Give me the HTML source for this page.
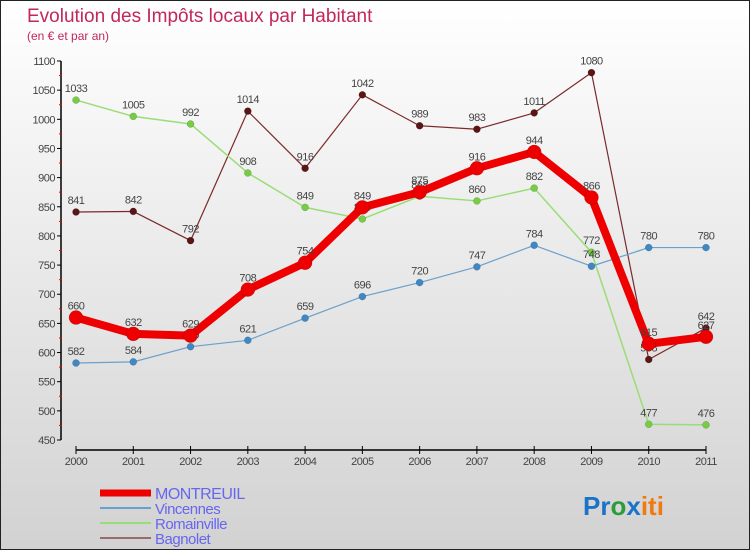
<!DOCTYPE html>
<html><head><meta charset="utf-8">
<style>
html,body{margin:0;padding:0}
body{width:750px;height:550px;overflow:hidden;font-family:"Liberation Sans",sans-serif}
#wrap{position:absolute;left:0;top:0;width:748px;height:548px;border:1px solid #222;background:linear-gradient(#ffffff,#d2d2d2)}
</style></head>
<body>
<div id="wrap">
<svg id="chart" width="750" height="550" style="position:absolute;left:-1px;top:-1px">
<text x="27" y="22" font-size="19" fill="#c2275c">Evolution des Impôts locaux par Habitant</text>
<text x="27" y="40" font-size="12" fill="#c2275c">(en € et par an)</text>
<g id="axes"></g>
<g id="series"></g>
<g id="legend"></g>
<text x="583" y="515" font-size="26" font-weight="bold"><tspan fill="#1a73c8">Pr</tspan><tspan fill="#2a9d3a">o</tspan><tspan fill="#1a73c8">x</tspan><tspan fill="#f07a10">iti</tspan></text>
</svg>
</div>
<script>
const years = [2000,2001,2002,2003,2004,2005,2006,2007,2008,2009,2010,2011];
const yTicks = [450,500,550,600,650,700,750,800,850,900,950,1000,1050,1100];
const seriesNames = ["MONTREUIL","Vincennes","Romainville","Bagnolet"];
const montreuil = [660,632,629,708,754,849,875,916,944,866,615,627];
const vincennes = [582,584,610,621,659,696,720,747,784,748,780,780];
const romainville = [1033,1005,992,908,849,829,868,860,882,772,477,476];
const bagnolet = [841,842,792,1014,916,1042,989,983,1011,1080,588,642];

const NS="http://www.w3.org/2000/svg";
function xs(i){return 76+i*(630/11);}
function ys(v){return 440-(v-450)*(379/650);}
function mk(tag,attrs,parent){const e=document.createElementNS(NS,tag);for(const k in attrs)e.setAttribute(k,attrs[k]);parent.appendChild(e);return e;}
const axes=document.getElementById('axes');
let a=mk('line',{x1:61,y1:ys(1100),x2:61,y2:ys(450),stroke:'#000','stroke-width':1.5},axes);


yTicks.forEach((t,i)=>{
  const tk=mk('line',{x1:57,y1:ys(t),x2:61,y2:ys(t),stroke:'#000'},axes);
  
  
  const lb=mk('text',{x:55,y:ys(t)+4,'font-size':11,fill:'#444','text-anchor':'end','letter-spacing':'-0.5'},axes);
  lb.textContent=t;
  
  
  if(i<yTicks.length-1){
    const m=mk('line',{x1:59,y1:ys(t+25),x2:62,y2:ys(t+25),stroke:'#e00'},axes);
    
    
  }
});
a=mk('line',{x1:76,y1:450,x2:706,y2:450,stroke:'#000','stroke-width':1.5},axes);


years.forEach((y,i)=>{
  const tk=mk('line',{x1:xs(i),y1:446,x2:xs(i),y2:454,stroke:'#000'},axes);
  
  
  const lb=mk('text',{x:xs(i),y:465,'font-size':11,fill:'#444','text-anchor':'middle','letter-spacing':'-0.5'},axes);
  lb.textContent=y;
  
  
});
const sg=document.getElementById('series');
const defs=[
  {name:'bagnolet',data:bagnolet,c:'#7a2a2a',dot:'#5a1515',w:1.2,r:3.5},
  {name:'romainville',data:romainville,c:'#99dd77',dot:'#77cc44',w:1.5,r:3.5},
  {name:'vincennes',data:vincennes,c:'#6aa0cc',dot:'#3f88c5',w:1.2,r:3.5},
  {name:'montreuil',data:montreuil,c:'#ee0000',dot:'#ee0000',w:8,r:7}
];
defs.forEach(d=>{
  const g=mk('g',{},sg);
  
  
  const pl=mk('polyline',{points:d.data.map((v,i)=>xs(i)+','+ys(v)).join(' '),fill:'none',stroke:d.c,'stroke-width':d.w,'stroke-linejoin':'round'},g);
  
  
  d.data.forEach((v,i)=>{
    const c=mk('circle',{cx:xs(i),cy:ys(v),r:d.r,fill:d.dot,stroke:'rgba(0,0,0,0.25)','stroke-width':0.5},g);
    
    
    const t=mk('text',{x:xs(i),y:ys(v)-8,'font-size':11,fill:'#444','text-anchor':'middle','letter-spacing':'-0.5'},g);
    t.textContent=v;
    
    
  });
});
const lg=document.getElementById('legend');
const ld=[{c:'#ee0000',w:7},{c:'#6aa0cc',w:2},{c:'#99dd77',w:2},{c:'#9a6a6a',w:2}];
seriesNames.forEach((n,i)=>{
  const y=493+i*15;
  const g=mk('g',{},lg);
  
  
  mk('line',{x1:100,y1:y,x2:151,y2:y,stroke:ld[i].c,'stroke-width':ld[i].w},g);
  const t=mk('text',{x:155,y:y+6,'font-size':i==0?16:15,fill:'#6666ee','letter-spacing':'-0.5'},g);
  t.textContent=n;
});
</script>
</body></html>
